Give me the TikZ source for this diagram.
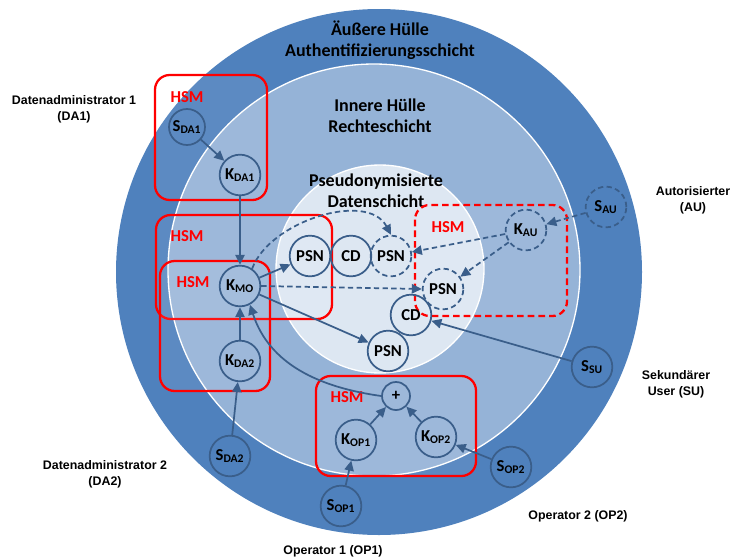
\documentclass[tikz,border=0pt]{standalone}
\usepackage{fontspec}
\setmainfont{Carlito}
\newfontfamily\rollenfont{Liberation Sans}
\usetikzlibrary{arrows.meta,positioning}
\definecolor{aussen}{RGB}{79,129,189}
\definecolor{mitte}{RGB}{149,179,215}
\definecolor{innen}{RGB}{221,231,242}
\definecolor{linie}{RGB}{58,94,138}
\definecolor{hsmrot}{RGB}{255,0,0}

\begin{document}
\begin{tikzpicture}[x=0.75pt,y=-0.75pt,
    knoten/.style={circle,draw=linie,line width=1.3pt,minimum size=30.5pt,inner sep=0pt,font=\bfseries\fontsize{12.5}{13}\selectfont},
    gestr/.style={knoten,dash pattern=on 4pt off 2.5pt},
    pfeil/.style={draw=linie,line width=1.3pt,-{Triangle[length=7.5pt,width=7pt]}},
    gpfeil/.style={pfeil,dash pattern=on 4pt off 2.5pt},
    hsm/.style={draw=hsmrot,line width=1.7pt,rounded corners=11pt,fill=white,fill opacity=0.08},
    hsmtext/.style={text=hsmrot,font=\bfseries\fontsize{12.5}{14}\selectfont},
    titel/.style={align=center,font=\bfseries\fontsize{13.5}{15.5}\selectfont},
    rolle/.style={align=center,font=\rollenfont\bfseries\fontsize{9.3}{12}\selectfont}]

    \useasboundingbox (0,0) rectangle (732,557);

    \fill[aussen] (379,272) circle [radius=263];
    \draw[white,line width=1pt,fill=mitte] (374,270) circle [radius=206];
    \draw[white,line width=1pt,fill=innen] (380,269) circle [radius=104];

    \node[titel] (t1) at (380,40) {Äußere Hülle\\Authentifizierungsschicht};
    \node[titel] (t2) at (380,116) {Innere Hülle\\Rechteschicht};
    \node[titel] (t3) at (376,191) {Pseudonymisierte\\Datenschicht};

    \draw[hsm] (155,75) rectangle (267,200);
    \draw[hsm] (156,215) rectangle (332,319);
    \draw[hsm] (160,261) rectangle (270,391);
    \draw[hsm] (316,376) rectangle (476,476);
    \draw[hsm,dash pattern=on 5pt off 3pt] (415,205) rectangle (567,316);
    \node[hsmtext] (h1) at (187,97) {HSM};
    \node[hsmtext] (h2) at (187,236) {HSM};
    \node[hsmtext] (h3) at (193,282) {HSM};
    \node[hsmtext] (h4) at (347,397) {HSM};
    \node[hsmtext] (h5) at (448,227) {HSM};

    \node[knoten,minimum size=27pt] (sda1) at (187,127) {S\textsubscript{DA1}};
    \node[knoten] (kda1) at (240,175) {K\textsubscript{DA1}};
    \node[knoten] (kmo) at (240,286) {K\textsubscript{MO}};
    \node[knoten] (kda2) at (240,361) {K\textsubscript{DA2}};
    \node[knoten] (sda2) at (230,456) {S\textsubscript{DA2}};
    \node[knoten] (psna) at (310,256) {PSN};
    \node[knoten] (cda) at (351,256) {CD};
    \node[gestr] (psnb) at (391,256) {PSN};
    \node[gestr] (psnc) at (443,289) {PSN};
    \node[knoten] (cdb) at (411,315) {CD};
    \node[knoten] (psnd) at (388,351) {PSN};
    \node[gestr] (kau) at (526,230) {K\textsubscript{AU}};
    \node[gestr] (sau) at (606,207) {S\textsubscript{AU}};
    \node[knoten] (ssu) at (592,367) {S\textsubscript{SU}};
    \node[knoten,minimum size=21pt] (plus) at (396,396) {+};
    \node[knoten] (kopa) at (356,440) {K\textsubscript{OP1}};
    \node[knoten] (kopb) at (436,437) {K\textsubscript{OP2}};
    \node[knoten] (sopa) at (341,506) {S\textsubscript{OP1}};
    \node[knoten] (sopb) at (511,467) {S\textsubscript{OP2}};

    \draw[pfeil] (sda1) -- (kda1);
    \draw[pfeil] (kda1) -- (kmo);
    \draw[pfeil] (kda2) -- (kmo);
    \draw[pfeil] (sda2) -- (kda2);
    \draw[pfeil] (kmo) -- (psna);
    \draw[pfeil] (kmo) -- (psnd);
    \draw[gpfeil] (kmo.55) to[out=70,in=118,looseness=0.9] (psnb.north);
    \draw[gpfeil] (kmo.east) -- (psnc.west);
    \draw[pfeil] (plus.west) to[out=172,in=-72] (kmo.-62);
    \draw[pfeil] (kopa) -- (plus);
    \draw[pfeil] (kopb) -- (plus);
    \draw[pfeil] (sopa) -- (kopa);
    \draw[pfeil] (sopb) -- (kopb);
    \draw[pfeil] (ssu) -- (cdb);
    \draw[gpfeil] (sau) -- (kau);
    \draw[gpfeil] (kau) -- (psnb);
    \draw[gpfeil] (kau) -- (psnc);

    \node[rolle] (da1) at (74,109) {Datenadministrator 1\\(DA1)};
    \node[rolle] (da2) at (105,474) {Datenadministrator 2\\(DA2)};
    \node[rolle] (au) at (693,200) {Autorisierter\\(AU)};
    \node[rolle] (su) at (676,384) {Sekundärer\\User (SU)};
    \node[rolle] (op2) at (578,516) {Operator 2 (OP2)};
    \node[rolle] (op1) at (333,551) {Operator 1 (OP1)};
\end{tikzpicture}
\end{document}
